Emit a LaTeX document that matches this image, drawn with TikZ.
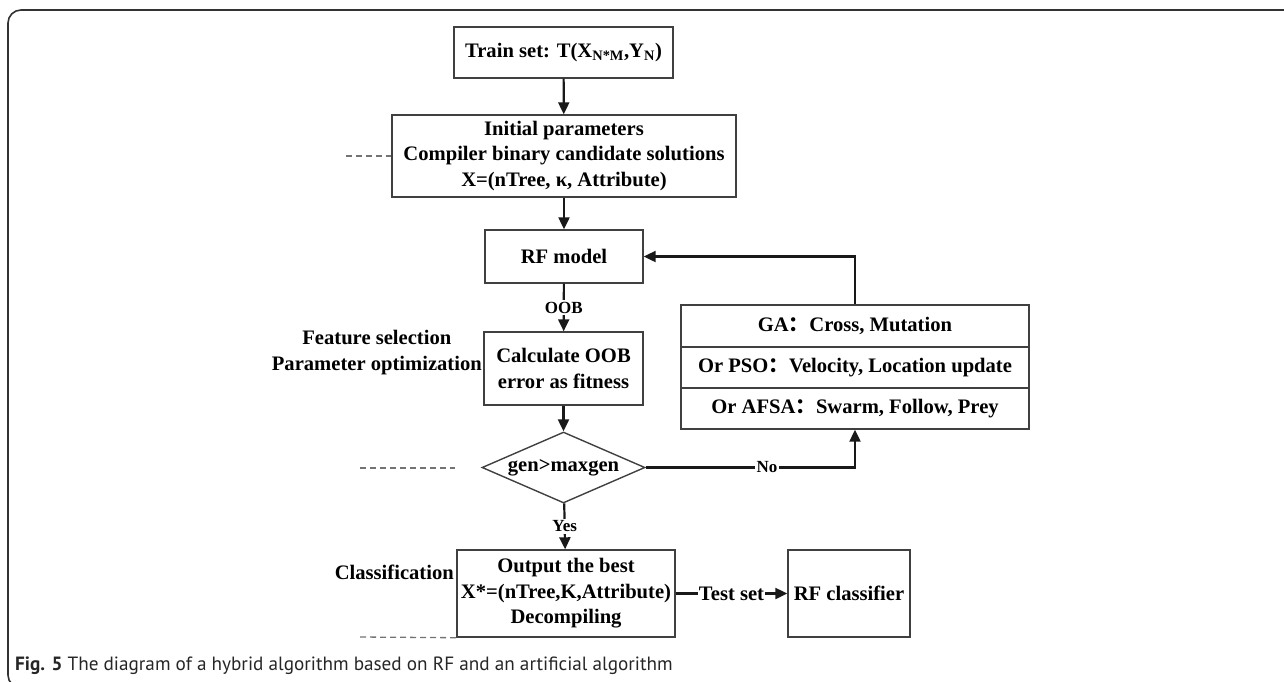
\documentclass[tikz,border=0pt]{standalone}
\usepackage{fontspec}
\setmainfont{Liberation Serif}
\newfontfamily\capfont{PT Sans}
\newfontfamily\cjk{Noto Sans CJK SC}
\usetikzlibrary{shapes.geometric,arrows.meta}

% text sizes used in the flow chart
\newcommand\dgfont{\fontsize{20.6}{25.5}\selectfont\bfseries}
\newcommand\lblfont{\fontsize{17}{20}\selectfont\bfseries}
\newcommand\fwcolon{{\cjk\bfseries ：}}

\begin{document}
\begin{tikzpicture}[x=1pt,y=-1pt,
  box/.style={draw=black!75, line width=1.4pt, inner sep=0pt, align=center, font=\dgfont},
  flow/.style={line width=2.2pt, draw=black!90, -{Triangle[length=12pt,width=11pt]}},
  guide/.style={draw=black!55, line width=1.3pt, dash pattern=on 6pt off 4pt},
  lbl/.style={fill=white, inner sep=1.5pt, font=\lblfont},
  side/.style={inner sep=0pt, align=center, font=\dgfont}
]
\useasboundingbox (0,0) rectangle (1284,681);
\clip (0,0) rectangle (1284,681);

% outer frame
\draw[line width=1.6pt, black!80, rounded corners=13pt] (8,10) rectangle (1300,688);

% main column
\node[box, minimum width=219pt, minimum height=51pt] (train) at (563.5,52.5)
  {Train set: T(X\textsubscript{N*M},Y\textsubscript{N})};
\node[box, minimum width=344pt, minimum height=82pt] (init) at (564,156)
  {Initial parameters\\Compiler binary candidate solutions\\X=(nTree, κ, Attribute)};
\node[box, minimum width=158pt, minimum height=53pt] (rf) at (564,256.5) {RF model};
\node[box, minimum width=159pt, minimum height=73pt] (calc) at (563.5,368.5)
  {Calculate OOB\\error as fitness};
\node[draw=black!75, line width=1.4pt, shape=diamond, inner sep=0pt, shape aspect=2.3,
  minimum width=163pt, minimum height=71pt, font=\dgfont] (dia) at (563.5,467.5) {gen>maxgen};
\node[box, minimum width=218pt, minimum height=87pt] (out) at (566,593.5)
  {Output the best\\X*=(nTree,K,Attribute)\\Decompiling};
\node[box, minimum width=122pt, minimum height=87pt] (rfc) at (849,593.5) {RF classifier};

% optimiser table
\node[box, minimum width=348pt, minimum height=42pt] (ga) at (855,326)
  {GA\fwcolon Cross, Mutation};
\node[box, minimum width=348pt, minimum height=41pt] (pso) at (855,367.5)
  {Or PSO\fwcolon Velocity, Location update};
\node[box, minimum width=348pt, minimum height=41pt] (afsa) at (855,408.5)
  {Or AFSA\fwcolon Swarm, Follow, Prey};

% stage labels
\node[side, anchor=east] (feat) at (482,352.5) {Feature selection\\Parameter optimization};
\node[side, anchor=east] (cls) at (454,572) {Classification};

% stage separators
\coordinate (g1) at (346,156);
\coordinate (g2a) at (360,468);
\coordinate (g2b) at (455,468);
\coordinate (g3) at (360,637);
\draw[guide] (g1) -- (init.west);
\draw[guide] (g2a) -- (g2b);
\draw[guide] (g3) -- (out.south west);

% connectors
\draw[flow] (train) -- (init);
\draw[flow] (init) -- (rf);
\draw[flow] (rf) -- node[lbl] {OOB} (calc);
\draw[flow] (calc) -- (dia);
\draw[flow] (dia) -- node[lbl] {Yes} (out);
\draw[flow] (dia.east) -| node[lbl, pos=0.29] {No} (afsa.south);
\draw[flow] (ga.north) |- (rf.east);
\draw[flow] (out) -- node[lbl, font=\dgfont, inner sep=1pt] {Test set} (rfc);

% caption
\node[anchor=base west, inner sep=0pt, text=black!85,
  font=\capfont\fontsize{19.2}{22}\selectfont] (cap) at (15,670)
  {\textbf{Fig. 5} The diagram of a hybrid algorithm based on RF and an artificial algorithm};
\end{tikzpicture}
\end{document}
